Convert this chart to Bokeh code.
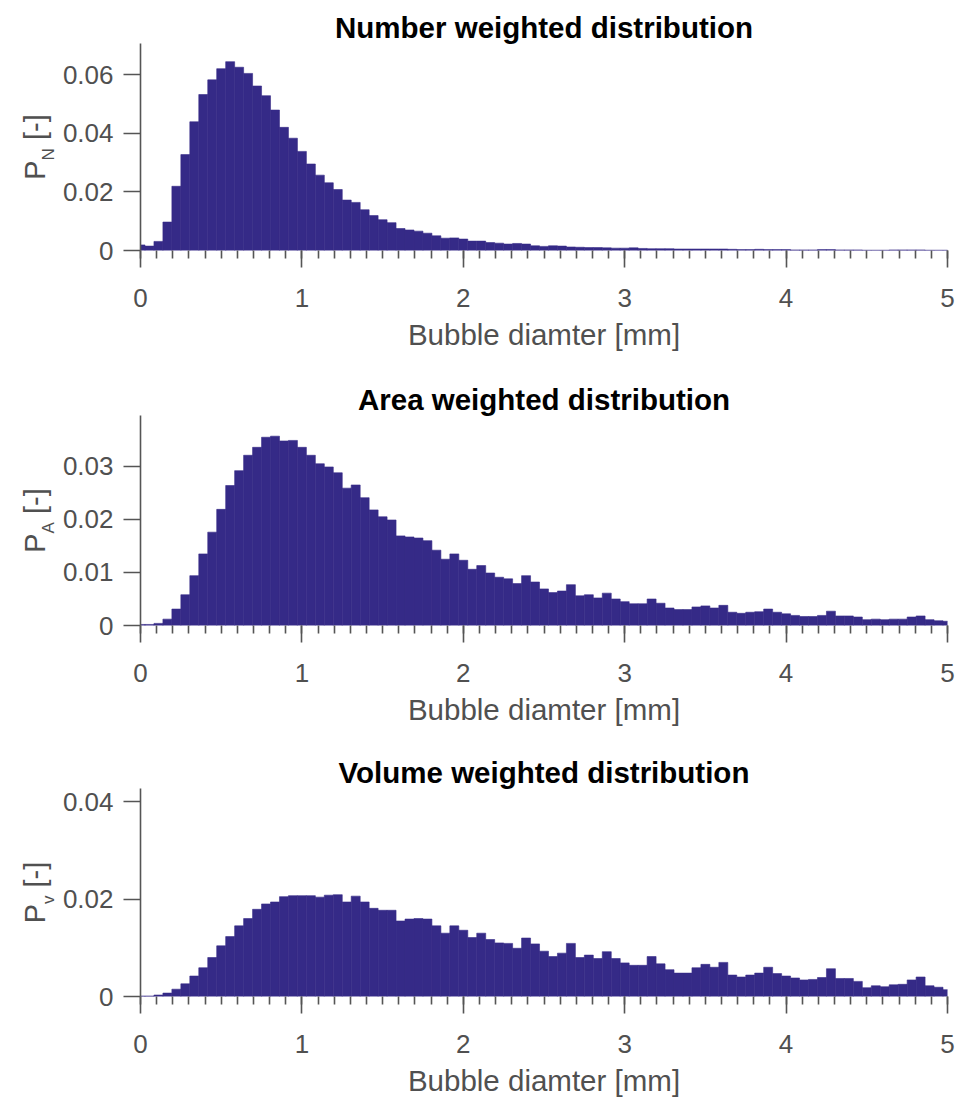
import math
import numpy as np
from bokeh.plotting import figure
from bokeh.models import Range1d, FixedTicker, NumeralTickFormatter
from bokeh.core.properties import value
from bokeh.layouts import column, row
from bokeh.embed import file_html
from bokeh.resources import INLINE

# ---------------- data ----------------
BIN_CENTERS = np.linspace(0.0, 5.0, 91)   # bubble diameter bin centres [mm]
BIN_WIDTH = 5.0 / 90

number_pdf = [
    0.0019, 0.0015, 0.0031, 0.0097, 0.0219, 0.0327, 0.0439, 0.0532, 0.0582, 0.0620,
    0.0644, 0.0625, 0.0604, 0.0561, 0.0528, 0.0479, 0.0420, 0.0383, 0.0338, 0.0295,
    0.0257, 0.0231, 0.0208, 0.0172, 0.0164, 0.0139, 0.0119, 0.0105, 0.0095, 0.0075,
    0.0070, 0.0066, 0.0059, 0.0050, 0.0042, 0.0043, 0.0039, 0.0032, 0.0032, 0.0027,
    0.0025, 0.0022, 0.0024, 0.0022, 0.0016, 0.0014, 0.0016, 0.0015, 0.0012, 0.0011,
    0.0010, 0.0010, 0.0009, 0.0008, 0.0008, 0.0009, 0.0007, 0.0006, 0.0006, 0.0006,
    0.0005, 0.0005, 0.0005, 0.0005, 0.0005, 0.0005, 0.0004, 0.0003, 0.0003, 0.0004,
    0.0003, 0.0003, 0.0003, 0.0002, 0.0002, 0.0002, 0.0003, 0.0003, 0.0002, 0.0002,
    0.0002, 0.0001, 0.0001, 0.0001, 0.0002, 0.0002, 0.0002, 0.0002, 0.0001, 0.0001,
    0.0001,
]

area_pdf = [
    0.0002, 0.0002, 0.0004, 0.0012, 0.0031, 0.0058, 0.0094, 0.0135, 0.0176, 0.0219,
    0.0264, 0.0292, 0.0321, 0.0336, 0.0355, 0.0357, 0.0348, 0.0349, 0.0336, 0.0321,
    0.0305, 0.0299, 0.0288, 0.0259, 0.0265, 0.0241, 0.0218, 0.0205, 0.0199, 0.0169,
    0.0167, 0.0165, 0.0160, 0.0142, 0.0125, 0.0135, 0.0123, 0.0106, 0.0113, 0.0099,
    0.0091, 0.0088, 0.0079, 0.0094, 0.0082, 0.0069, 0.0062, 0.0065, 0.0077, 0.0056,
    0.0058, 0.0052, 0.0061, 0.0050, 0.0045, 0.0041, 0.0041, 0.0050, 0.0042, 0.0033,
    0.0030, 0.0030, 0.0035, 0.0037, 0.0033, 0.0038, 0.0025, 0.0023, 0.0025, 0.0026,
    0.0031, 0.0025, 0.0022, 0.0019, 0.0017, 0.0017, 0.0019, 0.0027, 0.0018, 0.0018,
    0.0016, 0.0011, 0.0012, 0.0011, 0.0012, 0.0012, 0.0016, 0.0018, 0.0011, 0.0009,
    0.0008,
]

volume_pdf = [
    0.0001, 0.0001, 0.0003, 0.0007, 0.0015, 0.0026, 0.0042, 0.0059, 0.0080, 0.0104,
    0.0123, 0.0145, 0.0160, 0.0179, 0.0190, 0.0194, 0.0205, 0.0207, 0.0207, 0.0207,
    0.0204, 0.0208, 0.0209, 0.0194, 0.0206, 0.0194, 0.0181, 0.0177, 0.0177, 0.0155,
    0.0159, 0.0160, 0.0159, 0.0145, 0.0130, 0.0145, 0.0136, 0.0121, 0.0130, 0.0117,
    0.0110, 0.0109, 0.0099, 0.0120, 0.0108, 0.0093, 0.0082, 0.0089, 0.0109, 0.0080,
    0.0085, 0.0078, 0.0092, 0.0078, 0.0069, 0.0064, 0.0064, 0.0082, 0.0067, 0.0055,
    0.0048, 0.0048, 0.0059, 0.0066, 0.0060, 0.0070, 0.0044, 0.0040, 0.0044, 0.0048,
    0.0060, 0.0047, 0.0042, 0.0038, 0.0034, 0.0035, 0.0039, 0.0057, 0.0037, 0.0037,
    0.0031, 0.0018, 0.0022, 0.0020, 0.0024, 0.0025, 0.0034, 0.0040, 0.0022, 0.0019,
    0.0014,
]

titles = ["Number weighted distribution", "Area weighted distribution",
          "Volume weighted distribution"]
subscripts = ["N", "A", "v"]
y_max = [0.0706, 0.0396, 0.0427]
y_ticks = [[0, 0.02, 0.04, 0.06], [0, 0.01, 0.02, 0.03], [0, 0.02, 0.04]]
x_ticks = [0, 1, 2, 3, 4, 5]
x_minor_ticks = [round(0.1 * i, 1) for i in range(51)]
x_label = "Bubble diamter [mm]"

# ---------------- style ----------------
FONT = "Liberation Sans"
BAR = "#352a87"
AX = "#555555"
TXT = "#505050"
LABEL_W = 58          # strip holding the rotated y labels
FRAME_W = 807
LEFT = 140 - LABEL_W
RIGHT = 8
frame_heights = [207, 210, 208]
tops = [43, 40, 40]
bottoms = [125, 123, 102]
MAIN_PX = 29
SUB_PX = 17


def make_label_strip(i):
    fh = frame_heights[i]
    s = figure(frame_width=LABEL_W, frame_height=fh,
               x_range=Range1d(0, LABEL_W), y_range=Range1d(0, fh),
               x_axis_location=None, y_axis_location=None,
               min_border_left=0, min_border_right=0,
               min_border_top=tops[i], min_border_bottom=bottoms[i],
               output_backend="svg", toolbar_location=None, title=None,
               background_fill_color="white", border_fill_color="white",
               outline_line_color=None)
    s.grid.visible = False
    sub_w = {"N": 0.722, "A": 0.667, "v": 0.5}[subscripts[i]] * SUB_PX
    p_w = 0.667 * MAIN_PX
    gap = 0.278 * MAIN_PX
    rest_w = (0.278 + 0.333 + 0.278) * MAIN_PX
    total = p_w + sub_w + gap + rest_w
    y0 = fh / 2 - total / 2
    common = dict(angle=math.pi / 2, text_font=value(FONT), text_color=TXT,
                  text_align="left", text_baseline="alphabetic")
    s.text(x=[34], y=[y0], text=["P"], text_font_size=value(f"{MAIN_PX}px"), **common)
    s.text(x=[48], y=[y0 + p_w], text=[subscripts[i]],
           text_font_size=value(f"{SUB_PX}px"), **common)
    s.text(x=[34], y=[y0 + p_w + sub_w + gap], text=["[-]"],
           text_font_size=value(f"{MAIN_PX}px"), **common)
    return s


def make_panel(i, values):
    fh = frame_heights[i]
    ymax = y_max[i]
    p = figure(frame_width=FRAME_W, frame_height=fh,
               x_range=Range1d(0, 5), y_range=Range1d(0, ymax),
               title=titles[i], output_backend="svg", toolbar_location=None,
               min_border_left=LEFT, min_border_right=RIGHT,
               min_border_top=tops[i], min_border_bottom=bottoms[i],
               background_fill_color="white", border_fill_color="white",
               outline_line_color=None)
    p.grid.visible = False
    p.title.align = "center"
    p.title.text_font = FONT
    p.title.text_font_size = "29.5px"
    p.title.text_font_style = "bold"
    p.title.text_color = "black"
    p.title.standoff = 0

    left = BIN_CENTERS - BIN_WIDTH / 2
    right = BIN_CENTERS + BIN_WIDTH / 2
    p.quad(left=left, right=right, bottom=0, top=values,
           fill_color=BAR, line_color=BAR, line_width=0.6)

    for ax in (p.xaxis[0], p.yaxis[0]):
        ax.axis_line_color = AX
        ax.axis_line_width = 1.6
        ax.major_tick_line_color = AX
        ax.major_tick_line_width = 1.6
        ax.major_tick_in = 0
        ax.major_tick_out = 17
        ax.minor_tick_in = 0
        ax.major_label_text_font = FONT
        ax.major_label_text_font_size = "26px"
        ax.major_label_text_color = TXT

    xa = p.xaxis[0]
    xa.axis_line_color = None
    xa.ticker = FixedTicker(ticks=x_ticks, minor_ticks=x_minor_ticks)
    xa.minor_tick_out = 8
    xa.minor_tick_line_color = AX
    xa.minor_tick_line_width = 1.6
    xa.major_label_standoff = 21
    xa.axis_label = x_label
    xa.axis_label_text_font = FONT
    xa.axis_label_text_font_size = "29.5px"
    xa.axis_label_text_font_style = "normal"
    xa.axis_label_text_color = TXT
    xa.axis_label_standoff = 8

    ya = p.yaxis[0]
    ya.ticker = FixedTicker(ticks=y_ticks[i])
    ya.formatter = NumeralTickFormatter(format="0.[00]")
    ya.minor_tick_line_color = None
    ya.major_label_standoff = 10
    return p


values_all = [number_pdf, area_pdf, volume_pdf]
rows = [row(make_label_strip(i), make_panel(i, values_all[i]), spacing=0) for i in range(3)]
layout = column(*rows, spacing=0)

open("out.html", "w").write(file_html(layout, INLINE))
